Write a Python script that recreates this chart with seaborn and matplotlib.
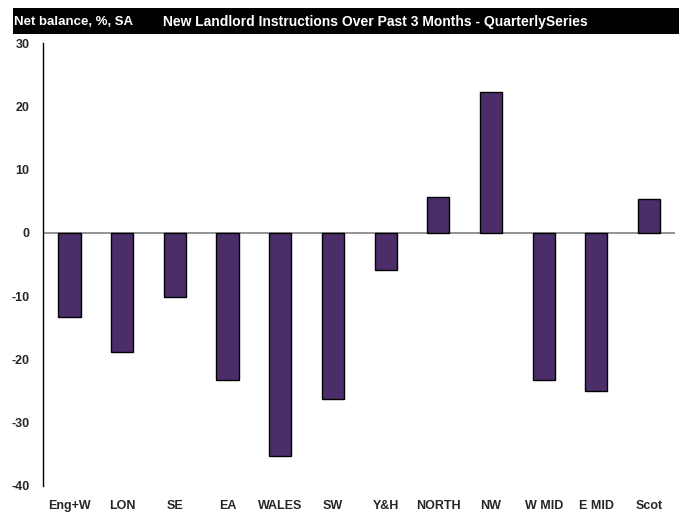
# New Landlord Instructions - regional net balance bar chart

import pandas as pd
import seaborn as sns
import matplotlib.pyplot as plt

# Data

regions = ["Eng+W", "LON", "SE", "EA", "WALES", "SW",
           "Y&H", "NORTH", "NW", "W MID", "E MID", "Scot"]
net_balance = [-13.3, -18.8, -10.1, -23.2, -35.2, -26.2,
               -5.8, 5.7, 22.3, -23.2, -25.0, 5.4]
y_ticks = [-40, -30, -20, -10, 0, 10, 20, 30]

df = pd.DataFrame({"region": regions, "balance": net_balance})

sns.set_style("white")
plt.rcParams["font.family"] = ["Liberation Sans Narrow", "Liberation Sans", "DejaVu Sans"]
plt.rcParams["font.weight"] = "bold"

fig = plt.figure(figsize=(6.85, 5.12), dpi=100)
ax = fig.add_axes([0.063, 0.051, 0.923, 0.865])

sns.barplot(
    data=df,
    x="region",
    y="balance",
    color="#4B2D69",
    saturation=1,
    width=0.42,
    edgecolor="black",
    linewidth=1,
    ax=ax
)

ax.set_xlim(-0.5, 11.5)
ax.set_ylim(-40, 30)
ax.set_yticks(y_ticks)
ax.set_yticklabels([str(t) for t in y_ticks], fontsize=9, fontweight="bold")
ax.set_xticks(range(len(regions)))
ax.set_xticklabels(regions, fontsize=9, fontweight="bold")
ax.tick_params(axis="x", length=0, pad=10)
ax.tick_params(axis="y", length=0, pad=10)
ax.set_xlabel("")
ax.set_ylabel("")

# Zero line and spines
ax.axhline(0, color="#808080", linewidth=1.2, zorder=0)
for side in ["top", "right", "bottom"]:
    ax.spines[side].set_visible(False)
ax.spines["left"].set_color("black")
ax.spines["left"].set_linewidth(1)

# Black header strip
fig.patches.append(plt.Rectangle((0.019, 0.934), 0.972, 0.050, transform=fig.transFigure,
                                 facecolor="black", edgecolor="none", zorder=0))
fig.text(0.021, 0.957, "Net balance, %, SA", color="white", fontsize=9.5,
         fontweight="bold", va="center", ha="left")
fig.text(0.238, 0.957, "New Landlord Instructions Over Past 3 Months - QuarterlySeries",
         color="white", fontsize=10, fontweight="bold", va="center", ha="left")

plt.savefig("out.png", dpi=100)
